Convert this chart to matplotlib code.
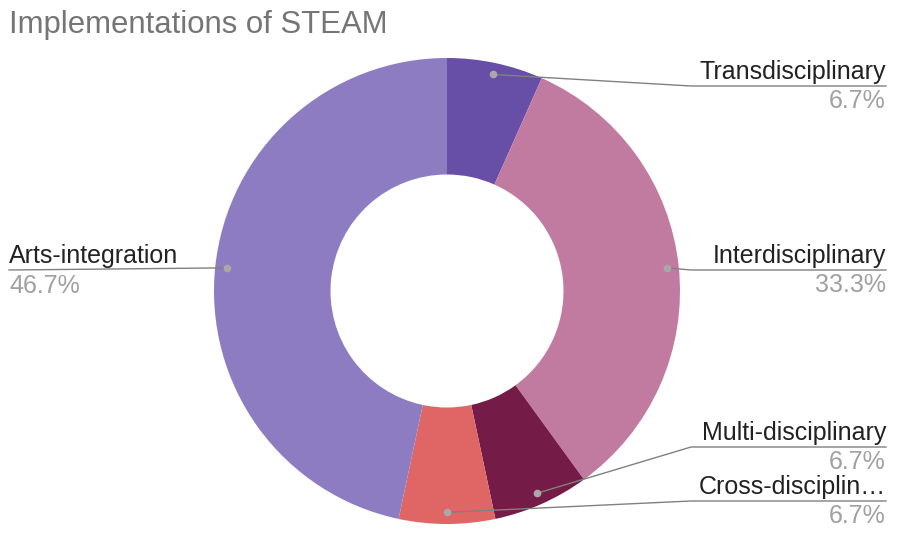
import numpy as np
import matplotlib.pyplot as plt

plt.rcParams['font.family'] = ['Liberation Sans', 'DejaVu Sans']

# data
labels = ["Transdisciplinary", "Interdisciplinary", "Multi-disciplinary",
          "Cross-disciplin\u2026", "Arts-integration"]
counts = [1, 5, 1, 1, 7]
colors = ["#674ea7", "#c27ba0", "#741b47", "#e06666", "#8e7cc3"]

W, H = 903, 560
fig = plt.figure(figsize=(W / 100, H / 100), dpi=100)
ax = fig.add_axes([0, 0, 1, 1])


def py(y):
    # pixel row -> data y
    return H - y


cx, cy, R = 447, py(291), 233
wedges, _ = ax.pie(counts, colors=colors, startangle=90, counterclock=False,
                   radius=R, center=(cx, cy),
                   wedgeprops=dict(width=R * 0.5, linewidth=0))
ax.set_xlim(0, W)
ax.set_ylim(0, H)
ax.set_aspect('equal')
ax.axis('off')

fig.text(9 / W, 1 - 33 / H, "Implementations of STEAM", fontsize=22.4,
         color="#757575", ha='left', va='baseline')

total = sum(counts)
# label layout: (side, underline pixel row)
layout = [("r", 86), ("r", 270), ("r", 447), ("r", 501), ("l", 270)]
line_col = "#808080"
fs = 18
for w, lab, n, (side, ly) in zip(wedges, labels, counts, layout):
    mid = np.deg2rad((w.theta1 + w.theta2) / 2)
    dx = cx + 0.95 * R * np.cos(mid)
    dy = cy + 0.95 * R * np.sin(mid)
    ax.plot(dx, dy, 'o', ms=4.5, color="#a8a8a8", zorder=5)
    pct = f"{100 * n / total:.1f}%"
    if side == "r":
        xt = 886
        ax.plot([dx, 691, xt], [dy, py(ly), py(ly)], color=line_col, lw=1.0,
                zorder=4)
        ax.text(xt, py(ly - 7), lab, ha='right', va='baseline', fontsize=fs,
                color="#222222")
        ax.text(xt, py(ly + 22), pct, ha='right', va='baseline', fontsize=fs,
                color="#a0a0a0")
    else:
        xt = 9
        ax.plot([xt, dx], [py(ly), dy], color=line_col, lw=1.0, zorder=4)
        ax.text(xt, py(ly - 7), lab, ha='left', va='baseline', fontsize=fs,
                color="#222222")
        ax.text(xt, py(ly + 23), pct, ha='left', va='baseline', fontsize=fs,
                color="#a0a0a0")

fig.savefig("out.png", dpi=100)
